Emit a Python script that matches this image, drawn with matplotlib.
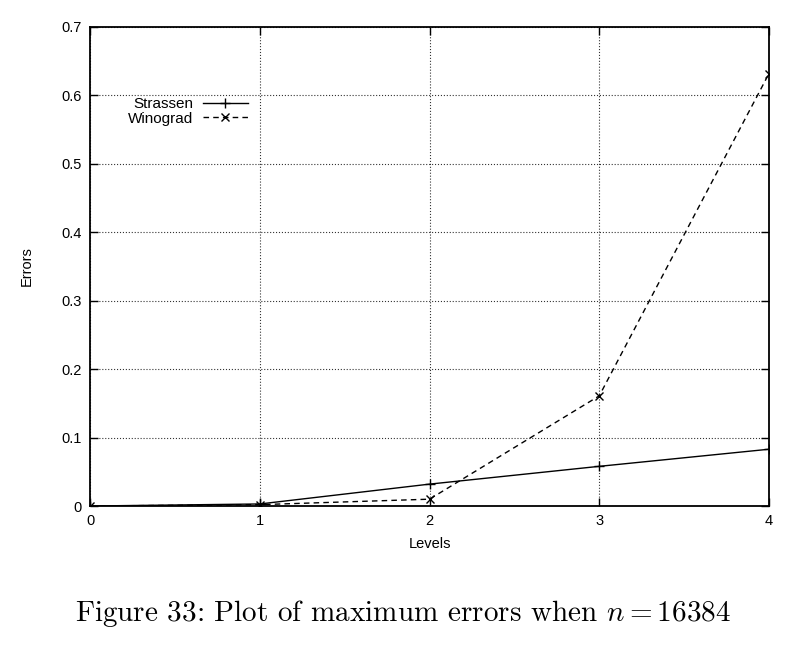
import matplotlib.pyplot as plt

plt.rcParams['font.family'] = ['Liberation Sans', 'DejaVu Sans']
plt.rcParams['mathtext.fontset'] = 'cm'

# datos
levels = [0, 1, 2, 3, 4]
strassen = [0.0, 0.003, 0.032, 0.058, 0.083]
winograd = [0.0, 0.002, 0.010, 0.161, 0.632]
yticks = [0, 0.1, 0.2, 0.3, 0.4, 0.5, 0.6, 0.7]
ytick_labels = ['0', '0.1', '0.2', '0.3', '0.4', '0.5', '0.6', '0.7']

fig = plt.figure(figsize=(8.06, 6.6), dpi=100)
ax = fig.add_axes([0.1117, 0.2333, 0.8424, 0.7258])

ax.plot(levels, strassen, color='black', lw=1.0, marker='+', ms=7,
        mew=1.0, label='Strassen')
ax.plot(levels, winograd, color='black', lw=1.0, ls=(0, (4, 3)), marker='x',
        ms=6, mew=1.0, label='Winograd')

ax.set_xlim(0, 4)
ax.set_ylim(0, 0.7)
ax.set_xticks(levels)
ax.set_yticks(yticks)
ax.set_yticklabels(ytick_labels)
ax.tick_params(direction='in', length=6, width=1, top=True, right=True,
               labelsize=10.5, pad=6)
ax.grid(True, color='black', ls=':', lw=0.8, alpha=0.8)
for s in ax.spines.values():
    s.set_linewidth(1.3)

ax.set_xlabel('Levels', fontsize=10.5, labelpad=6)
ax.set_ylabel('Errors', fontsize=10.5, labelpad=20)

ax.legend(loc='upper right', bbox_to_anchor=(0.2445, 0.87), frameon=False,
          markerfirst=False, fontsize=11, handlelength=3.0, borderpad=0,
          labelspacing=0.05, handletextpad=0.6)

fig.text(0.5, 0.071, 'Figure 33: Plot of maximum errors when $n = 16384$',
         ha='center', va='center', fontsize=21, family='cmr10')

fig.savefig('out.png')
